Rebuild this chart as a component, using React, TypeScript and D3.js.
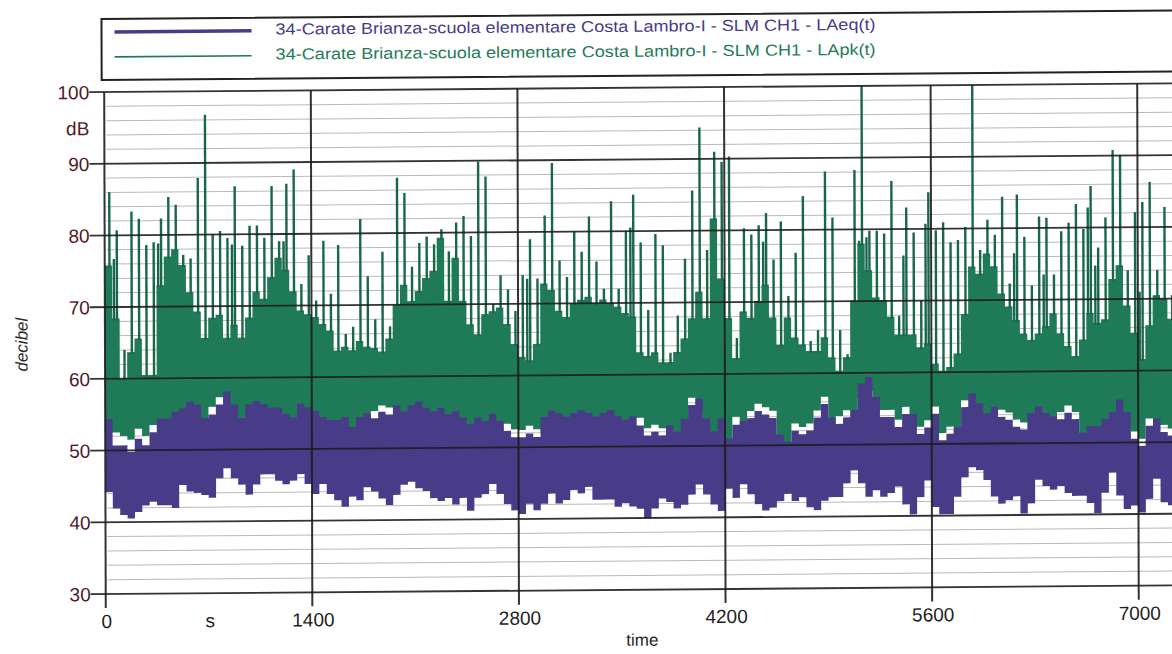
import { useEffect, useRef } from 'react';
import * as d3 from 'd3';

// one reading every 50 s
const BIN_SECONDS = 50;
const TIME_TICKS = [0, 1400, 2800, 4200, 5600, 7000];
const DB_TICKS = [30, 40, 50, 60, 70, 80, 90, 100];
const MINOR_STEP = 2;

const SERIES_NAMES = [
  '34-Carate Brianza-scuola elementare Costa Lambro-I - SLM CH1 - LAeq(t)',
  '34-Carate Brianza-scuola elementare Costa Lambro-I - SLM CH1 - LApk(t)',
];

// LApk: tallest spike in each bin
const LAPK_PEAK = [
  86, 80.7, 64, 83.3, 82.3, 78.6, 79, 82.3, 85.3, 84.2,
  77.2, 76.7, 87.9, 96.7, 80, 80.5, 79.5, 86.7, 78.4, 81.2,
  81.2, 79.5, 86.7, 79, 87, 89, 73, 77, 70.7, 79,
  71.6, 78.4, 66, 67, 82, 74, 68, 77.4, 67, 87.7,
  85.6, 75.3, 78.6, 79.5, 78.4, 80.5, 77.4, 81.4, 82.3, 79.5,
  89.9, 87.8, 70, 74, 72, 69, 74, 79, 73.5, 82.3,
  89.6, 76, 73.7, 80, 77.2, 82.1, 75.8, 72, 84.2, 72,
  80, 85.1, 78.4, 69, 79.6, 78, 63, 68.2, 76.1, 85.6,
  94.4, 77.3, 91, 89.6, 90.3, 65, 80.3, 79.4, 80.7, 82.4,
  75.9, 81.2, 70.8, 76.8, 84.7, 64.5, 66, 88.1, 81.7, 66,
  62.6, 88.3, 101, 79.8, 79.8, 79.4, 86.7, 67.9, 83, 79.5,
  70, 85.1, 79.8, 80.9, 78.1, 78.4, 80.2, 101, 77, 81.2,
  79.1, 84.4, 72.3, 84.7, 78.8, 72, 81.6, 81.4, 73.5, 79.5,
  80.7, 83.3, 79.8, 85.8, 77.2, 81.4, 90.8, 90.1, 74, 82.1,
  83.5, 86.3, 74, 82.8, 70.5,
];

// second spikes seen inside some bins: [bin, dB]
const LAPK_EXTRA_PEAKS: [number, number][] = [
  [1, 76.7], [7, 78.8], [17, 78.6], [24, 79], [57, 73.5], [71, 80.5], [89, 78.4],
  [102, 78.4], [103, 78.9], [108, 76.3], [111, 80.7], [123, 76.5], [127, 73.5],
  [133, 82.8], [134, 74.7], [140, 71],
];

// LApk: top of the dense band in each bin
const LAPK_TOP = [
  75.8, 68.4, 60, 63.7, 65.6, 60.5, 60.5, 73, 77, 78,
  75.8, 72, 69.3, 65.6, 68.4, 68.8, 65.6, 67.4, 65.6, 68.4,
  72, 71, 74, 76.7, 75, 72, 69.3, 68.8, 68.4, 67.4,
  66.5, 63.7, 64.2, 63.7, 65, 64.2, 64, 63.5, 65.3, 70,
  72.8, 70.5, 71.9, 73.7, 74.7, 79.3, 70.5, 76.5, 70.5, 67.2,
  65.8, 68.6, 69, 69.5, 67.2, 64.4, 62.6, 62.1, 64.4, 72.8,
  71.9, 69, 68.1, 70, 70.5, 70.9, 70, 70.5, 70, 69.5,
  68.6, 68.1, 63.1, 62.6, 63.1, 61.7, 61.7, 63.1, 65, 67.8,
  71.5, 67.8, 81.7, 73.3, 67.8, 62.2, 68.7, 67.8, 70.1, 72.4,
  67.8, 64, 67.8, 65, 64, 63.1, 63.1, 65, 62.2, 60.3,
  62.2, 70.1, 78, 74.3, 70.5, 70.1, 67.8, 65.3, 65.3, 65.3,
  63.5, 64, 61.2, 60.2, 60.7, 62.6, 68.1, 74.7, 73.7, 76.5,
  74.7, 70.9, 69.1, 67.2, 65.3, 64.4, 65.3, 66.3, 68.1, 65.3,
  63.5, 62.1, 64.4, 68.1, 66.7, 67.2, 72.8, 74.7, 69.1, 65.3,
  61.6, 66.3, 70.5, 70, 67.2,
];

// LApk: bottom of the band
const LAPK_LOW = [
  52.5, 52.5, 52, 51.5, 53, 52, 53.5, 52.5, 52.5, 53,
  54, 54.5, 54, 52.5, 56, 57.3, 56, 54.5, 52.5, 54.5,
  55, 54.5, 54, 54, 53, 52.5, 54.5, 54, 53.5, 52.5,
  52, 52, 52.5, 51, 52.5, 53, 55.2, 56, 55.7, 54,
  53, 54, 54.5, 53.5, 53, 53.5, 52.5, 53, 52, 51.5,
  52, 51.5, 52.5, 51.5, 53.3, 52.5, 52.4, 53, 52.5, 52,
  53, 52.5, 52, 52.5, 53, 52.5, 52, 52.5, 53, 52,
  51.5, 52, 54, 52.5, 53, 52.5, 51, 50, 52, 56.7,
  54.5, 52, 50, 52, 49, 54, 51.5, 54.8, 55.8, 55.3,
  54.8, 49.5, 48.5, 53, 52.5, 53, 54.8, 56.7, 52, 54,
  54.8, 53, 56.5, 57.5, 54.5, 54.8, 54.8, 53.4, 55.2, 52,
  52.4, 53.3, 55.2, 51.5, 52.4, 50.5, 56.1, 55, 53.5, 52,
  53, 54.7, 54.3, 53.3, 52.9, 52, 53, 52, 51.5, 54.3,
  55.2, 54.3, 49.5, 50.5, 50.5, 51.5, 52, 54, 52, 51.5,
  50.5, 53.3, 51.5, 52.4, 51.9,
];

// LAeq: top and bottom of the band
const LAEQ_TOP = [
  54.4, 50.7, 50.7, 49.8, 51.6, 50.7, 52.5, 54.4, 54.4, 55.3,
  55.8, 56.7, 56.3, 54.4, 54.9, 56.3, 58.1, 56.3, 54.4, 56.3,
  56.7, 56.3, 55.8, 55.8, 54.9, 54.4, 56.3, 55.8, 55.3, 54.4,
  54, 54, 54.4, 53, 54.4, 54.9, 54.2, 55.1, 54.7, 56,
  55.1, 56, 56.5, 55.6, 55.1, 55.6, 54.7, 55.1, 54.2, 53.3,
  54.2, 53.7, 54.7, 53.7, 52.3, 51.4, 51.4, 51.9, 51.4, 54.2,
  55.1, 54.7, 54.2, 54.7, 55.1, 54.7, 54.2, 54.7, 55.1, 54.2,
  53.7, 54.2, 52.9, 51.5, 52, 51.5, 52.9, 52, 53.8, 55.7,
  56.6, 53.8, 52, 53.8, 51, 52.9, 53.4, 53.8, 54.8, 54.3,
  53.8, 51.5, 50.5, 52, 51.5, 52, 53.8, 55.7, 53.8, 52.9,
  53.8, 54.8, 58.5, 59.4, 56.6, 53.8, 53.8, 52.4, 54.2, 54.2,
  51.4, 52.3, 54.2, 50.5, 51.4, 52.3, 55.1, 57, 55.6, 54.2,
  55.1, 53.7, 53.3, 52.3, 51.9, 54.2, 55.1, 54.2, 53.7, 53.3,
  54.2, 53.3, 51.4, 52.3, 52.3, 53.3, 54.2, 56, 54.2, 50.5,
  49.5, 52.3, 53.3, 51.4, 50.9,
];

const LAEQ_LOW = [
  44.2, 41.9, 41, 40.5, 41.4, 42.3, 42.8, 42.3, 42.3, 41.9,
  45.1, 44.2, 44, 43.7, 43.3, 46, 47.4, 46, 45.1, 43.7,
  45.1, 46.5, 46.5, 45.6, 45.1, 45.6, 46.5, 45.1, 43.7, 45.1,
  43.7, 42.8, 41.9, 43.3, 42.8, 44.6, 44, 43, 42.1, 43.5,
  44.9, 45.3, 44.4, 44, 43, 42.6, 43, 42.1, 43, 41.2,
  43, 43.5, 44.9, 43.5, 42.1, 41.2, 40.7, 42.1, 41.2, 42.1,
  43.5, 42.1, 42.6, 44, 43.5, 44.4, 42.6, 42.6, 42.6, 41.6,
  42.1, 41.6, 41.3, 40, 41.3, 42.7, 42.2, 41.3, 41.8, 43.2,
  44.6, 43.2, 41.8, 40.9, 44, 42.7, 44.6, 43.2, 41.8, 40.9,
  41.3, 42.2, 43.2, 42.2, 42.7, 41.3, 40.9, 42.2, 42.7, 42.7,
  44.6, 46.4, 44.6, 42.7, 43.6, 42.7, 43.2, 44.1, 41.6, 40.2,
  42.6, 44.9, 41.2, 40.2, 40.2, 42.6, 45.3, 46.7, 46.3, 44.9,
  42.6, 41.6, 42.1, 42.6, 40.2, 41.6, 44.9, 44, 43.5, 44,
  43, 42.6, 42.6, 41.6, 40.2, 43, 45.8, 42.6, 40.7, 41.2,
  40.2, 42.1, 44.9, 41.6, 41.2,
];

const PURPLE = '#483b88';
const GREEN = '#1f7b57';
const SPIKE = '#19674a';
const GRID = '#1d1d1d';
const MINOR_GRID = '#b9b9b9';
const LABEL_DB = '#4e1a28';
const FONT = 'Liberation Sans, Arial, sans-serif';

// the scan is slightly sheared
const SHEAR_Y = -0.008;
const SHEAR_X = 0.003;

interface Band {
  t: number;
  lo: number;
  hi: number;
}

const toBands = (lo: number[], hi: number[]): Band[] => {
  const rows = lo.map((v, i) => ({ t: i * BIN_SECONDS, lo: v, hi: hi[i] }));
  const last = rows[rows.length - 1];
  rows.push({ ...last, t: rows.length * BIN_SECONDS });
  return rows;
};

export default function App() {
  const svgRef = useRef<SVGSVGElement>(null);

  useEffect(() => {
    if (!svgRef.current) return;
    const width = 1172;
    const height = 654;
    const svg = d3.select(svgRef.current);
    svg.selectAll('*').remove();
    svg.attr('viewBox', `0 0 ${width} ${height}`);

    const x = d3.scaleLinear().domain([0, 7000]).range([105.5, 1138.5]);
    const y = d3.scaleLinear().domain([30, 100]).range([594, 92]);
    const left = x(0);
    const right = width + 20;
    const fx = 105;
    const fy = 523;

    svg.append('rect').attr('width', width).attr('height', height).attr('fill', '#fff');

    const root = svg
      .append('g')
      .attr('transform', `matrix(1,${SHEAR_Y},${SHEAR_X},1,${-SHEAR_X * fy},${-SHEAR_Y * fx})`);

    // legend
    root
      .append('rect')
      .attr('x', 103)
      .attr('y', 19)
      .attr('width', 1120)
      .attr('height', 61)
      .attr('fill', 'none')
      .attr('stroke', '#222')
      .attr('stroke-width', 2);
    const legendColors = [PURPLE, GREEN];
    const legendWidths = [3.5, 1.6];
    SERIES_NAMES.forEach((name, i) => {
      const ly = 32 + i * 25;
      root
        .append('line')
        .attr('x1', 116)
        .attr('x2', 253)
        .attr('y1', ly)
        .attr('y2', ly)
        .attr('stroke', legendColors[i])
        .attr('stroke-width', legendWidths[i]);
      root
        .append('text')
        .attr('x', 277)
        .attr('y', ly + 4)
        .attr('fill', legendColors[i])
        .attr('textLength', 600)
        .attr('lengthAdjust', 'spacingAndGlyphs')
        .style('font-family', FONT)
        .style('font-size', '16px')
        .text(name);
    });

    // minor grid
    const minor = d3.range(30 + MINOR_STEP, 100, MINOR_STEP).filter((v) => v % 10 !== 0);
    root
      .selectAll('line.minor')
      .data(minor)
      .join('line')
      .attr('class', 'minor')
      .attr('x1', left + 2)
      .attr('x2', right)
      .attr('y1', (d) => y(d))
      .attr('y2', (d) => y(d))
      .attr('stroke', MINOR_GRID)
      .attr('stroke-width', 1);

    root
      .append('clipPath')
      .attr('id', 'plot-clip')
      .append('rect')
      .attr('x', left)
      .attr('y', y(100))
      .attr('width', right - left)
      .attr('height', y(30) - y(100));

    const plot = root.append('g').attr('clip-path', 'url(#plot-clip)');

    const band = d3
      .area<Band>()
      .x((d) => x(d.t))
      .y0((d) => y(d.lo))
      .y1((d) => y(d.hi))
      .curve(d3.curveStepAfter);

    plot.append('path').datum(toBands(LAPK_LOW, LAPK_TOP)).attr('d', band).attr('fill', GREEN);

    const spikes: { t: number; top: number; base: number }[] = [
      ...LAPK_PEAK.map((v, i) => ({ t: i * BIN_SECONDS + 32, top: v, base: LAPK_TOP[i] })),
      ...LAPK_EXTRA_PEAKS.map(([i, v]) => ({ t: i * BIN_SECONDS + 12, top: v, base: LAPK_TOP[i] })),
    ];
    plot
      .selectAll('line.spike')
      .data(spikes)
      .join('line')
      .attr('class', 'spike')
      .attr('x1', (d) => x(d.t))
      .attr('x2', (d) => x(d.t))
      .attr('y1', (d) => y(d.base) + 2)
      .attr('y2', (d) => y(d.top))
      .attr('stroke', SPIKE)
      .attr('stroke-width', 2.4);

    plot.append('path').datum(toBands(LAEQ_LOW, LAEQ_TOP)).attr('d', band).attr('fill', PURPLE);

    // major grid over the data
    root
      .selectAll('line.major')
      .data(DB_TICKS)
      .join('line')
      .attr('class', 'major')
      .attr('x1', left - 15)
      .attr('x2', right)
      .attr('y1', (d) => y(d))
      .attr('y2', (d) => y(d))
      .attr('stroke', GRID)
      .attr('stroke-width', 1.8)
      .attr('opacity', 0.9);

    root
      .selectAll('line.vgrid')
      .data(TIME_TICKS)
      .join('line')
      .attr('class', 'vgrid')
      .attr('x1', (d) => x(d))
      .attr('x2', (d) => x(d))
      .attr('y1', y(100))
      .attr('y2', y(30) + 14)
      .attr('stroke', GRID)
      .attr('stroke-width', 2)
      .attr('opacity', 0.9);

    // y labels
    root
      .selectAll('text.ylab')
      .data(DB_TICKS)
      .join('text')
      .attr('class', 'ylab')
      .attr('x', left - 15)
      .attr('y', (d) => y(d) + 7)
      .attr('text-anchor', 'end')
      .attr('fill', LABEL_DB)
      .style('font-family', FONT)
      .style('font-size', '19px')
      .text((d) => `${d}`);

    root
      .append('text')
      .attr('x', left - 15)
      .attr('y', 135)
      .attr('text-anchor', 'end')
      .attr('fill', LABEL_DB)
      .style('font-family', FONT)
      .style('font-size', '19px')
      .text('dB');

    root
      .append('text')
      .attr('transform', `translate(28,344) rotate(-90)`)
      .attr('text-anchor', 'middle')
      .attr('fill', '#2a2a2a')
      .style('font-family', FONT)
      .style('font-style', 'italic')
      .style('font-size', '17px')
      .text('decibel');

    // x labels
    root
      .selectAll('text.xlab')
      .data(TIME_TICKS)
      .join('text')
      .attr('class', 'xlab')
      .attr('x', (d) => x(d) + 1)
      .attr('y', 628)
      .attr('text-anchor', 'middle')
      .attr('fill', '#1e1e1e')
      .style('font-family', FONT)
      .style('font-size', '19px')
      .text((d) => `${d}`);

    root
      .append('text')
      .attr('x', 210)
      .attr('y', 628)
      .attr('text-anchor', 'middle')
      .attr('fill', '#1e1e1e')
      .style('font-family', FONT)
      .style('font-size', '19px')
      .text('s');

    root
      .append('text')
      .attr('x', 642)
      .attr('y', 650)
      .attr('text-anchor', 'middle')
      .attr('fill', '#1e1e1e')
      .style('font-family', FONT)
      .style('font-size', '17px')
      .text('time');
  }, []);

  return (
    <svg
      ref={svgRef}
      width={1172}
      height={654}
      style={{ position: 'absolute', left: 0, top: 0, display: 'block' }}
      role="img"
      aria-label="LAeq(t) e LApk(t) nel tempo"
    />
  );
}
